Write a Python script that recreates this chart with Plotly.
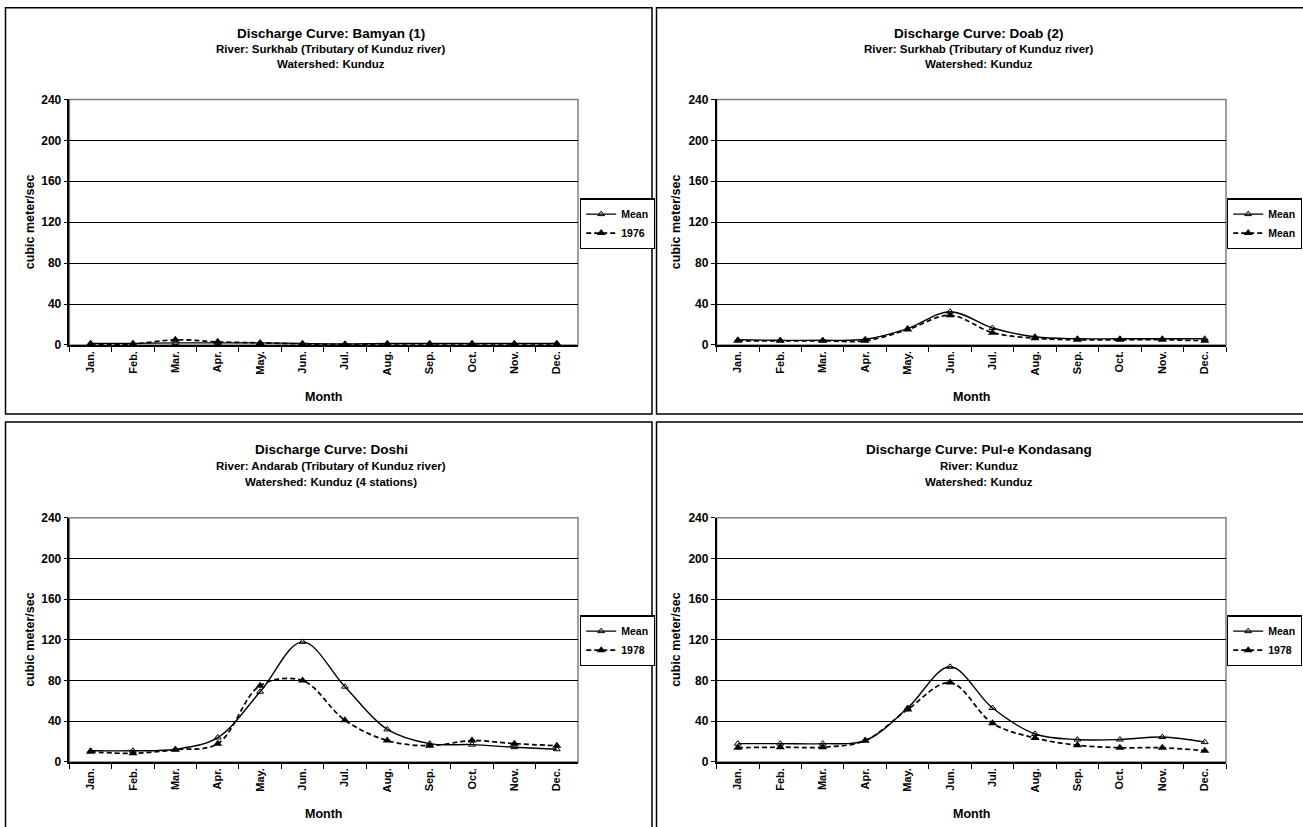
import plotly.graph_objects as go

W, H = 1303, 827

months = ["Jan.", "Feb.", "Mar.", "Apr.", "May.", "Jun.", "Jul.", "Aug.", "Sep.", "Oct.", "Nov.", "Dec."]

bamyan_mean = [1.5, 1.5, 2, 2, 2, 1.5, 1, 1.5, 1.5, 1.5, 1.5, 1.5]
bamyan_1976 = [1, 1, 5, 3, 2, 1, 0.5, 1, 1, 1, 1, 1]
doab_mean = [5, 4.5, 4.5, 5.5, 16, 32.5, 16.5, 8, 6, 6, 6, 6]
doab_mean2 = [4, 4, 4, 4, 15, 29, 12, 6.5, 5, 5, 5, 4]
doshi_mean = [11, 11, 12.5, 24, 69, 118, 74, 32, 18, 17, 14.5, 12.5]
doshi_1978 = [10, 8.5, 12, 18, 75, 80, 41, 21, 16, 21, 18, 16]
pul_mean = [18, 18, 18, 21, 53, 93.5, 53, 27.5, 22, 22, 24.5, 19.5]
pul_1978 = [14, 14.5, 14.5, 21, 51.5, 78, 38, 23.5, 16.5, 14, 14, 11]

titles = [
    ["Discharge Curve: Bamyan (1)", "River: Surkhab (Tributary of Kunduz river)", "Watershed: Kunduz"],
    ["Discharge Curve: Doab (2)", "River: Surkhab (Tributary of Kunduz river)", "Watershed: Kunduz"],
    ["Discharge Curve: Doshi", "River: Andarab (Tributary of Kunduz river)", "Watershed: Kunduz (4 stations)"],
    ["Discharge Curve: Pul-e Kondasang", "River: Kunduz", "Watershed: Kunduz"],
]
series = [
    (bamyan_mean, bamyan_1976, "Mean", "1976"),
    (doab_mean, doab_mean2, "Mean", "Mean"),
    (doshi_mean, doshi_1978, "Mean", "1978"),
    (pul_mean, pul_1978, "Mean", "1978"),
]
y_ticks = [0, 40, 80, 120, 160, 200, 240]
y_label = "cubic meter/sec"
x_label = "Month"

FONT = "Liberation Sans, Arial, sans-serif"

# target pixel geometry (as seen in the final picture)
panels = [
    dict(px=(69.4, 578), py=(99, 344.5), tx=331, ty=(33, 48.5, 64), leg=(580, 198), ylx=30, frame=(5.5, 0.75, 652, 413.5)),
    dict(px=(716.6, 1226), py=(99, 344.5), tx=979, ty=(33, 48.5, 64), leg=(1227, 198), ylx=676, frame=(656.5, 0.75, 1310, 413.5)),
    dict(px=(69.4, 578), py=(517.3, 761.5), tx=331, ty=(449.5, 465.5, 481.5), leg=(580, 615), ylx=30, frame=(5.5, 421.5, 652, 850)),
    dict(px=(716.6, 1226), py=(517.3, 761.5), tx=979, ty=(449.5, 465.5, 481.5), leg=(1227, 615), ylx=676, frame=(656.5, 421.5, 1310, 850)),
]

# the photographed page shows a slight vertical offset/compression; compensate
def Y(t):
    return (t - 6.6) / 0.983

def fx(p):
    return p / W

def fy(p):
    return 1 - Y(p) / H

fig = go.Figure()
layout = dict(width=W, height=H, margin=dict(l=0, r=0, t=0, b=0), autosize=False,
              paper_bgcolor="white", plot_bgcolor="white", showlegend=True,
              font=dict(family=FONT, color="black"))
shapes = []
annotations = []

for i, (p, (s1, s2, n1, n2), tt) in enumerate(zip(panels, series, titles)):
    k = "" if i == 0 else str(i + 1)
    xa, ya = "x" + k, "y" + k
    leg = "legend" + k
    fig.add_trace(go.Scatter(
        x=months, y=s1, name=n1, xaxis=xa, yaxis=ya, legend=leg, mode="lines+markers",
        line=dict(color="black", width=1.4, shape="spline", smoothing=1),
        marker=dict(symbol="triangle-up-open", size=6, color="black", line=dict(width=1, color="black"))))
    fig.add_trace(go.Scatter(
        x=months, y=s2, name=n2, xaxis=xa, yaxis=ya, legend=leg, mode="lines+markers",
        line=dict(color="black", width=1.7, shape="spline", smoothing=1, dash="5px,3px"),
        marker=dict(symbol="triangle-up", size=8, color="black")))
    layout["xaxis" + k] = dict(
        domain=[fx(p["px"][0]), fx(p["px"][1])], anchor=ya, type="category",
        categoryorder="array", categoryarray=months, range=[-0.5, 11.5],
        tickson="boundaries", ticks="outside", ticklen=5, tickwidth=1, tickcolor="black",
        tickangle=-90, tickfont=dict(family=FONT, size=11, color="black", weight="bold"),
        showline=True, linecolor="black", linewidth=1.5, showgrid=False, zeroline=False,
        fixedrange=True)
    layout["yaxis" + k] = dict(
        domain=[fy(p["py"][1]), fy(p["py"][0])], anchor=xa, range=[0, 240],
        tickvals=y_ticks, ticks="outside", ticklen=4, tickwidth=1, tickcolor="black",
        tickfont=dict(family=FONT, size=12, color="black", weight="bold"),
        showline=True, linecolor="black", linewidth=1.5,
        showgrid=True, gridcolor="black", gridwidth=1.1, zeroline=False, fixedrange=True)
    layout[leg] = dict(
        x=fx(p["leg"][0]), y=fy(p["leg"][1]), xanchor="left", yanchor="top", xref="paper", yref="paper",
        bgcolor="white", bordercolor="black", borderwidth=1.2, itemwidth=30,
        font=dict(family=FONT, size=10.5, color="black", weight="bold"), tracegroupgap=0)
    shapes.append(dict(type="rect", xref="paper", yref="paper",
                       x0=fx(p["px"][0]), x1=fx(p["px"][1]), y0=fy(p["py"][1]), y1=fy(p["py"][0]),
                       line=dict(color="#808080", width=1.5), layer="below"))
    f = p["frame"]
    top = f[1] if f[1] < 5 else Y(f[1])
    shapes.append(dict(type="rect", xref="paper", yref="paper",
                       x0=fx(f[0]), x1=fx(f[2]), y0=fy(f[3]), y1=1 - top / H,
                       line=dict(color="black", width=1.5), layer="above"))
    for j, (txt, sz) in enumerate(zip(tt, [13.5, 11.5, 11.5])):
        annotations.append(dict(text=txt, x=fx(p["tx"]), y=fy(p["ty"][j]), xref="paper", yref="paper",
                                xanchor="center", yanchor="middle", showarrow=False,
                                font=dict(family=FONT, size=sz, color="black", weight="bold")))
    annotations.append(dict(text=y_label, x=fx(p["ylx"]), y=fy((p["py"][0] + p["py"][1]) / 2),
                            xref="paper", yref="paper", xanchor="center", yanchor="middle",
                            showarrow=False, textangle=-90,
                            font=dict(family=FONT, size=12.5, color="black", weight="bold")))
    annotations.append(dict(text=x_label, x=fx((p["px"][0] + p["px"][1]) / 2), y=fy(p["py"][1] + 52),
                            xref="paper", yref="paper", xanchor="center", yanchor="middle",
                            showarrow=False,
                            font=dict(family=FONT, size=12.5, color="black", weight="bold")))

layout["shapes"] = shapes
layout["annotations"] = annotations
fig.update_layout(**layout)

post = (
    "var gd=document.getElementById('{plot_id}');"
    "gd.style.position='fixed';gd.style.top='0px';gd.style.left='0px';"
    "document.body.style.margin='0px';document.body.style.overflow='hidden';"
    "document.documentElement.style.overflow='hidden';"
)
fig.write_html("out.html", config={"displayModeBar": False}, post_script=post)
